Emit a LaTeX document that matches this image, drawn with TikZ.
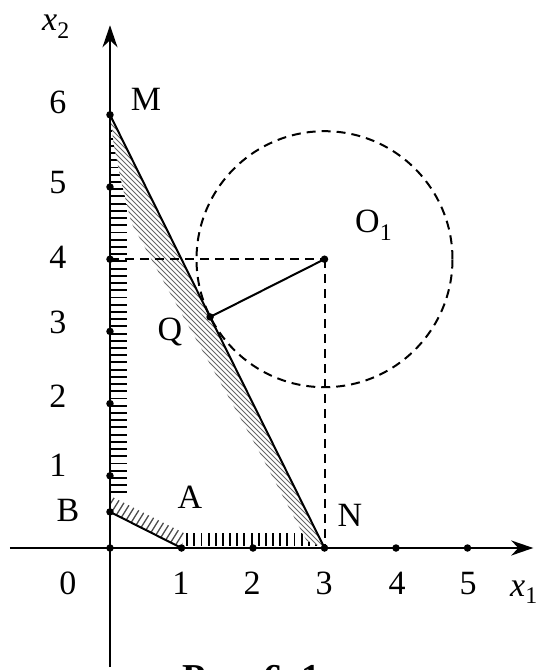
\documentclass[tikz,border=0pt]{standalone}
\usepackage{fontspec}
\setmainfont{Liberation Serif}
\usetikzlibrary{arrows.meta}
\begin{document}
\begin{tikzpicture}[x=71.5pt,y=72.2pt,
  lbl/.style={font=\fontsize{34}{40}\selectfont, inner sep=0pt, anchor=base},
  axisline/.style={line width=2pt, -{Stealth[length=22pt,width=15pt,inset=7pt]}},
  bline/.style={line width=2pt},
  dline/.style={line width=2pt, dash pattern=on 9pt off 6pt},
  dot/.style={circle, fill=black, inner sep=0pt, minimum size=7.5pt},
  hatchk/.style={line width=1.9pt},
  hatchab/.style={line width=1.3pt, black!70},
  hatchmn/.style={line width=1.0pt, black!60},
]
\useasboundingbox (-110pt,-122pt) rectangle (426pt,548pt);

% key points
\coordinate (O) at (0,0);
\coordinate (B) at (0,0.5);
\coordinate (A) at (1,0);
\coordinate (N) at (3,0);
\coordinate (M) at (0,6);
\coordinate (O1) at (3,4);
\coordinate (Q) at (1.4,3.2);
\coordinate (Y4) at (0,4);
\coordinate (ybot) at (0,-1.65);
\coordinate (ytop) at (0,7.24);
\coordinate (xleft) at (-1.4,0);
\coordinate (xright) at (5.92,0);

% hatching along x2 axis and along AN
\begin{scope}
  \clip (0,6) -- (0.05,5.6) -- (0.15,5.1) -- (0.3,4.5) -- (0.8,3.6) -- (2.05,1.4) -- (2.75,0.1) -- (3,0) -- (0,0) -- cycle;
  \foreach \k in {0,...,51} \draw[hatchk] (0,{0.77+\k*0.1}) -- (0.24,{0.77+\k*0.1});
  \foreach \k in {0,...,25} \draw[hatchk] ({1.08+\k*0.1},0.03) -- ({1.08+\k*0.1},0.21);
\end{scope}

% hatching along AB
\begin{scope}
  \clip (0,0.5) -- (1,0) -- (1.047,0.2) -- (0,0.7236) -- cycle;
  \foreach \k in {0,...,24} \draw[hatchab] ({\k*6.5pt-40pt},-10pt) -- ++(58:120pt);
\end{scope}

% hatching along MN
\begin{scope}
  \clip (0,6) -- (0.05,5.6) -- (0.15,5.1) -- (0.3,4.5) -- (0.8,3.6) -- (2.05,1.4) -- (2.75,0.1) -- (3,0) -- cycle;
  \foreach \k in {0,...,135} \draw[hatchmn] (-5pt,{\k*5pt}) -- ++(-45:320pt);
\end{scope}

% axes
\draw[axisline] (ybot) -- (ytop);
\draw[axisline] (xleft) -- (xright);

% constraint lines
\draw[bline] (M) -- (N);
\draw[bline] (B) -- (A);

% dashed construction
\draw[dline] (Y4) -- (O1);
\draw[dline] (O1) -- (N);
\draw[dline] (O1) circle [radius=128pt];
\draw[bline] (O1) -- (Q);

% dots
\foreach \y/\n in {0/d0,0.5/dB,1/d1,2/d2,3/d3,4/d4,5/d5,6/d6}
  \node[dot] (\n) at (0,\y) {};
\foreach \x/\n in {1/e1,2/e2,3/e3,4/e4,5/e5}
  \node[dot] (\n) at (\x,0) {};
\node[dot] (cO1) at (O1) {};
\node[dot] (cQ) at (Q) {};

% labels
\node[lbl, anchor=base west] (lx2) at (-68pt,517pt) {\textit{x}\textsubscript{2}};
\node[lbl] (l6) at (-52pt,434pt) {6};
\node[lbl] (lM) at (36pt,437pt) {M};
\node[lbl] (l5) at (-52pt,354pt) {5};
\node[lbl] (l4) at (-52pt,279pt) {4};
\node[lbl] (l3) at (-52pt,214pt) {3};
\node[lbl] (l2) at (-52pt,140pt) {2};
\node[lbl] (l1) at (-52pt,72pt) {1};
\node[lbl] (lB) at (-42pt,27pt) {B};
\node[lbl] (l0) at (-42pt,-46pt) {0};
\node[lbl] (m1) at (71pt,-46pt) {1};
\node[lbl] (m2) at (142pt,-46pt) {2};
\node[lbl] (m3) at (214pt,-46pt) {3};
\node[lbl] (m4) at (287pt,-46pt) {4};
\node[lbl] (m5) at (358pt,-46pt) {5};
\node[lbl, anchor=base west] (lx1) at (400pt,-48pt) {\textit{x}\textsubscript{1}};
\node[lbl] (lA) at (80pt,40pt) {A};
\node[lbl] (lN) at (240pt,22pt) {N};
\node[lbl] (lQ) at (60pt,207pt) {Q};
\node[lbl, anchor=base west] (lO1) at (245pt,315pt) {O\textsubscript{1}};
\node[lbl, anchor=base west, font=\bfseries\fontsize{38}{44}\selectfont] (cap) at (72pt,-142pt) {Рис.~6.~1};
\end{tikzpicture}
\end{document}
